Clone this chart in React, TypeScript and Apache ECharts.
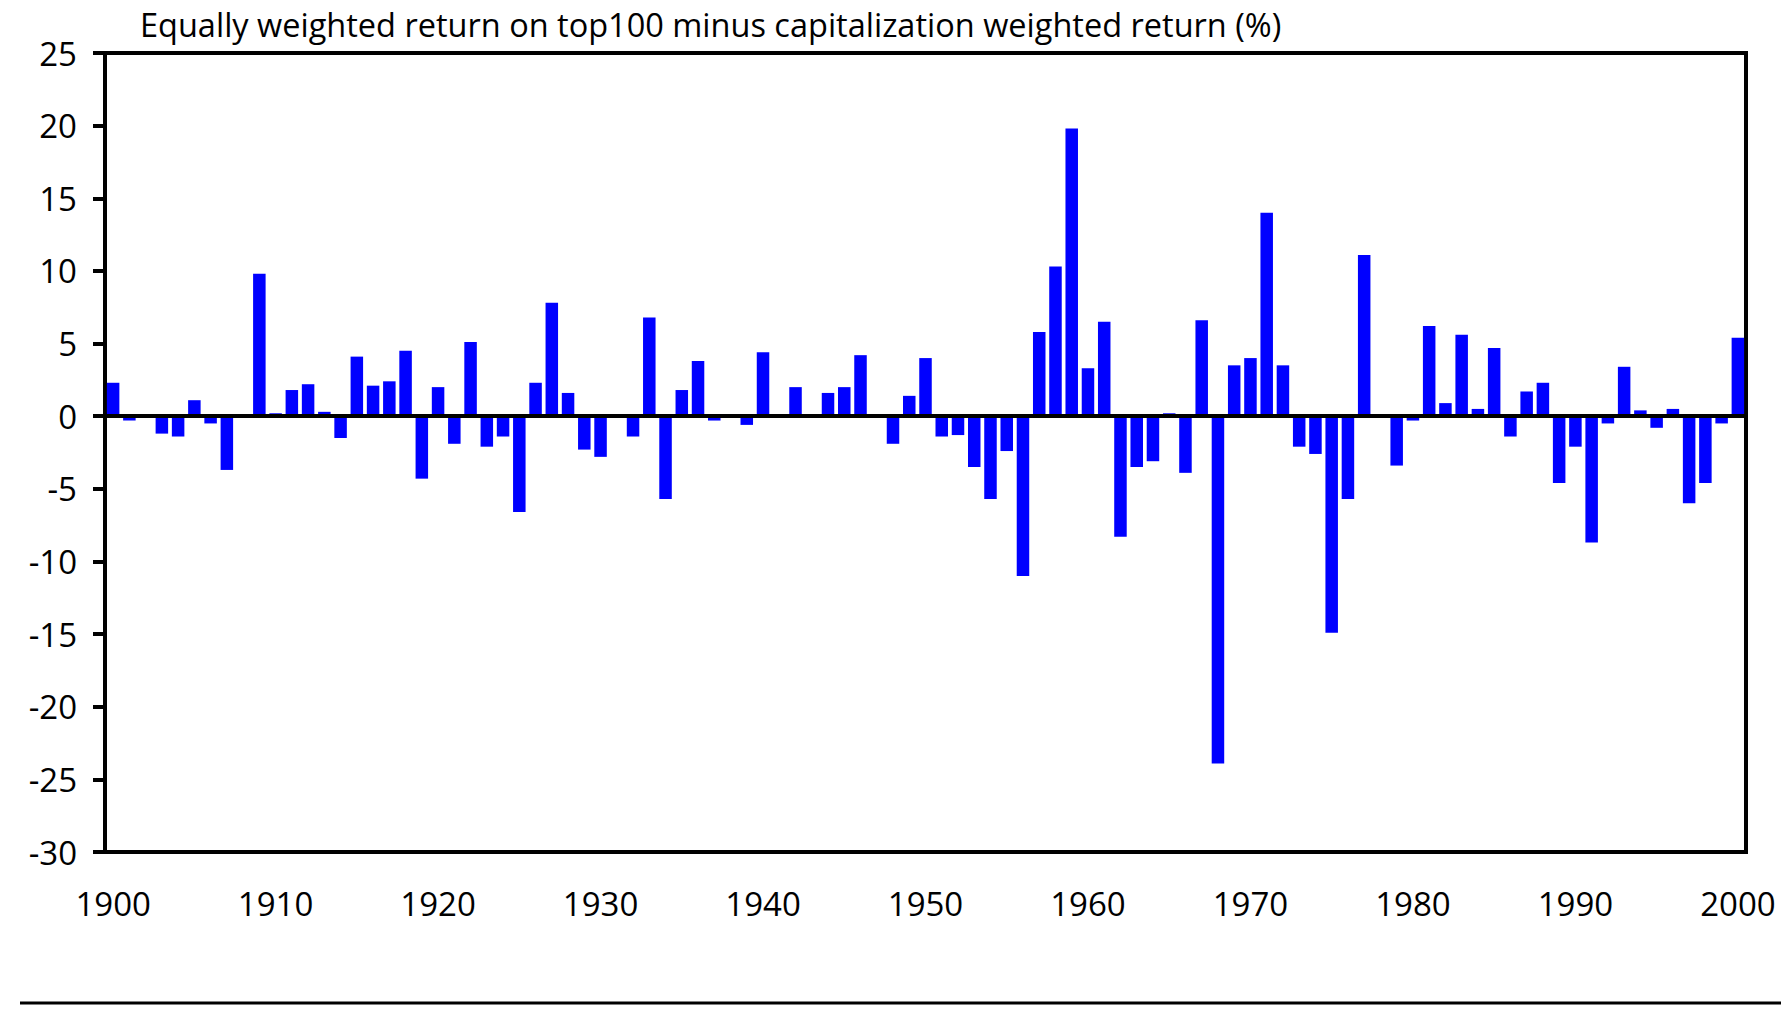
import React, { useEffect, useRef } from "react";
import * as echarts from "echarts";

const TITLE = "Equally weighted return on top100 minus capitalization weighted return (%)";

const years: string[] = [];
for (let y = 1900; y <= 2000; y++) years.push(String(y));

const values1900s = [2.3, -0.3, 0, -1.2, -1.4, 1.1, -0.5, -3.7, 0, 9.8];
const values1910s = [0.2, 1.8, 2.2, 0.3, -1.5, 4.1, 2.1, 2.4, 4.5, -4.3];
const values1920s = [2.0, -1.9, 5.1, -2.1, -1.4, -6.6, 2.3, 7.8, 1.6, -2.3];
const values1930s = [-2.8, 0, -1.4, 6.8, -5.7, 1.8, 3.8, -0.3, 0, -0.6];
const values1940s = [4.4, 0, 2.0, 0, 1.6, 2.0, 4.2, 0, -1.9, 1.4];
const values1950s = [4.0, -1.4, -1.3, -3.5, -5.7, -2.4, -11.0, 5.8, 10.3, 19.8];
const values1960s = [3.3, 6.5, -8.3, -3.5, -3.1, 0.2, -3.9, 6.6, -23.9, 3.5];
const values1970s = [4.0, 14.0, 3.5, -2.1, -2.6, -14.9, -5.7, 11.1, 0, -3.4];
const values1980s = [-0.3, 6.2, 0.9, 5.6, 0.5, 4.7, -1.4, 1.7, 2.3, -4.6];
const values1990s = [-2.1, -8.7, -0.5, 3.4, 0.4, -0.8, 0.5, -6.0, -4.6, -0.5];
const values2000 = [5.4];

const values = [
  ...values1900s, ...values1910s, ...values1920s, ...values1930s, ...values1940s,
  ...values1950s, ...values1960s, ...values1970s, ...values1980s, ...values1990s, ...values2000,
];

const yMin = -30;
const yMax = 25;
const yStep = 5;

const FONT = "Open Sans";

export default function App() {
  const ref = useRef<HTMLDivElement>(null);
  useEffect(() => {
    if (!ref.current) return;
    const chart = echarts.init(ref.current, null, { renderer: "svg" });
    chart.setOption({
      animation: false,
      backgroundColor: "#ffffff",
      grid: {
        left: 105,
        right: 35,
        top: 53,
        bottom: 161,
        show: true,
        borderColor: "#000000",
        borderWidth: 4,
        backgroundColor: "transparent",
      },
      xAxis: {
        type: "category",
        data: years,
        boundaryGap: true,
        axisLine: { show: true, onZero: false, lineStyle: { color: "#000", width: 4 } },
        axisTick: { show: false },
        axisLabel: {
          interval: 9,
          color: "#000",
          fontSize: 33,
          fontFamily: FONT,
          margin: 35,
        },
        splitLine: { show: false },
      },
      yAxis: {
        type: "value",
        min: yMin,
        max: yMax,
        interval: yStep,
        axisLine: { show: true, lineStyle: { color: "#000", width: 4 } },
        axisTick: { show: true, inside: false, length: 12, lineStyle: { color: "#000", width: 4 } },
        axisLabel: {
          color: "#000",
          fontSize: 33,
          fontFamily: FONT,
          margin: 28,
        },
        splitLine: { show: false },
      },
      series: [
        {
          type: "bar",
          data: values,
          barCategoryGap: "23%",
          itemStyle: { color: "#0000ff" },
          markLine: {
            silent: true,
            symbol: "none",
            label: { show: false },
            lineStyle: { color: "#000", width: 4, type: "solid" },
            data: [{ yAxis: 0 }],
          },
        },
      ],
      graphic: [
        {
          type: "text",
          left: 140,
          top: 8,
          style: {
            text: TITLE,
            fontSize: 32.5,
            fontFamily: FONT,
            fill: "#000",
          },
        },
        {
          type: "line",
          shape: { x1: 20, y1: 1003, x2: 1781, y2: 1003 },
          style: { stroke: "#000", lineWidth: 3 },
        },
      ],
    });
    return () => chart.dispose();
  }, []);
  return (
    <div
      ref={ref}
      style={{ position: "absolute", left: 0, top: 0, width: 1781, height: 1013 }}
    />
  );
}
